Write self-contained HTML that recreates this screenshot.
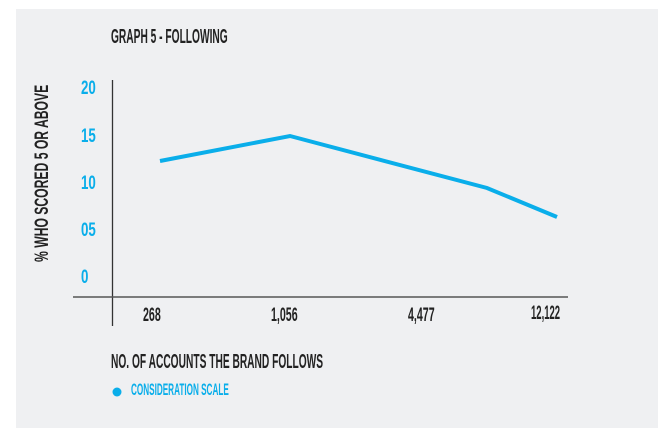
<!DOCTYPE html>
<html><head><style>
body{margin:0;width:671px;height:436px;background:#fff;position:relative;overflow:hidden}
.p{position:absolute;left:16px;top:9px;width:642px;height:419px;background:#eff0f2}
.t{position:absolute;font-family:"Liberation Sans",sans-serif;font-weight:bold;white-space:nowrap;line-height:1;transform-origin:0 0}
</style></head><body>
<div class="p"></div>
<svg style="position:absolute;left:0;top:0" width="671" height="436">
<line x1="112.5" y1="80" x2="112.5" y2="326" stroke="#333" stroke-width="1.3"/>
<line x1="73" y1="297" x2="568" y2="297" stroke="#555" stroke-width="1.5"/>
<polyline points="160,161 290,136 487,188 557,217" fill="none" stroke="#0aaeea" stroke-width="4"/>
<circle cx="117" cy="392" r="4.5" fill="#0aaeea"/>
</svg>
<div class="t" style="left:111px;top:27px;font-size:20px;color:#222;transform:scaleX(0.51)">GRAPH 5 - FOLLOWING</div>
<div class="t" style="left:81px;top:79px;font-size:19px;color:#0aaeea;transform:scaleX(0.7)">20</div>
<div class="t" style="left:81px;top:127px;font-size:19px;color:#0aaeea;transform:scaleX(0.7)">15</div>
<div class="t" style="left:81px;top:174px;font-size:19px;color:#0aaeea;transform:scaleX(0.7)">10</div>
<div class="t" style="left:81px;top:221px;font-size:19px;color:#0aaeea;transform:scaleX(0.7)">05</div>
<div class="t" style="left:81px;top:268px;font-size:19px;color:#0aaeea;transform:scaleX(0.7)">0</div>
<div class="t" style="left:33px;top:262px;font-size:19px;color:#222;transform:rotate(-90deg) scaleX(0.64)">% WHO SCORED 5 OR ABOVE</div>
<div class="t" style="left:143px;top:306px;font-size:19px;color:#222;transform:scaleX(0.56)">268</div>
<div class="t" style="left:271px;top:306px;font-size:19px;color:#222;transform:scaleX(0.56)">1,056</div>
<div class="t" style="left:408px;top:306px;font-size:19px;color:#222;transform:scaleX(0.56)">4,477</div>
<div class="t" style="left:531px;top:304px;font-size:19px;color:#222;transform:scaleX(0.5)">12,122</div>
<div class="t" style="left:111px;top:352px;font-size:20px;color:#222;transform:scaleX(0.51)">NO. OF ACCOUNTS THE BRAND FOLLOWS</div>
<div class="t" style="left:131px;top:381px;font-size:17px;color:#0aaeea;transform:scaleX(0.48)">CONSIDERATION SCALE</div>
</body></html>
